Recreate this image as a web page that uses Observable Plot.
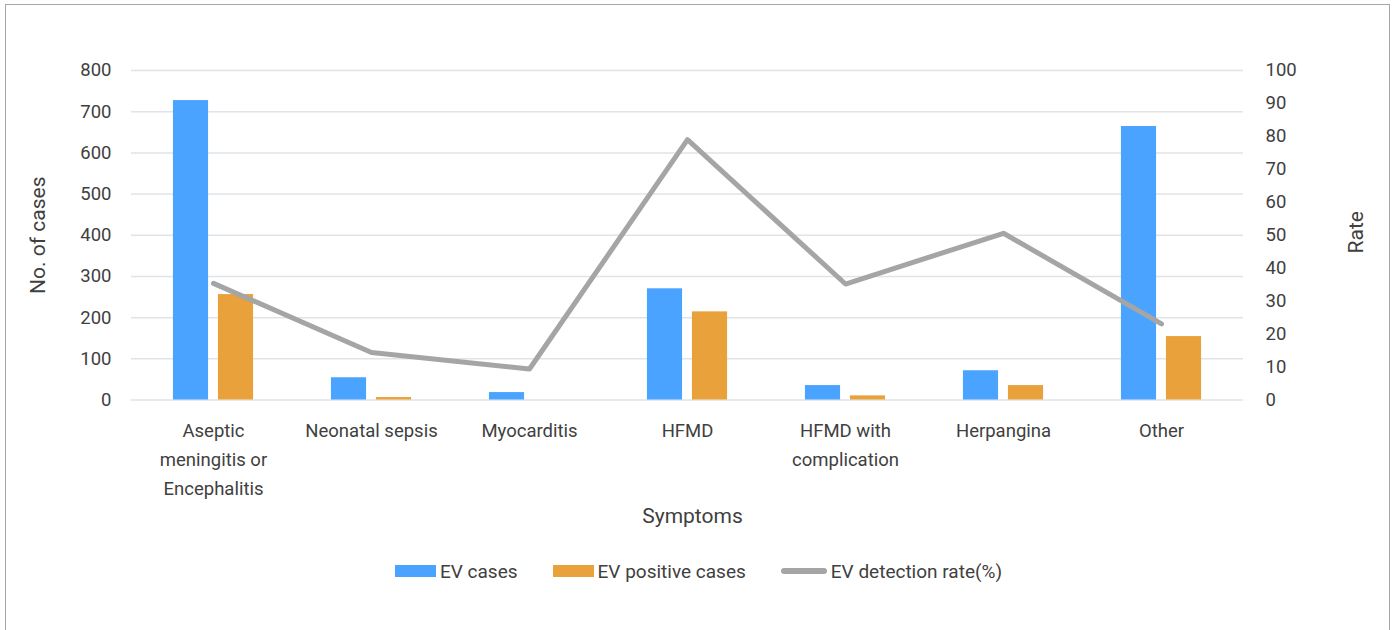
<!DOCTYPE html>
<html>
<head>
<meta charset="utf-8">
<script src="https://cdn.jsdelivr.net/npm/d3@7"></script>
<script src="https://cdn.jsdelivr.net/npm/@observablehq/plot@0.6"></script>
<style>
  html, body { margin: 0; padding: 0; background: #fff; overflow: hidden; }
  body { width: 1397px; height: 630px; position: relative; font-family: Roboto, "Liberation Sans", sans-serif; }
  #frame { position: absolute; left: 5px; top: 4px; width: 1383px; height: 700px; border: 1px solid #a6a6a6; pointer-events: none; }
  #chart svg { display: block; }
  #legend { height: 52px; display: flex; justify-content: center; align-items: center; gap: 35px; font-size: 19px; color: #404040; }
  .item { display: flex; align-items: center; gap: 4px; }
  .sw { width: 41px; height: 12px; }
  .ln { width: 46px; height: 6px; border-radius: 3px; background: #a5a5a5; }
</style>
</head>
<body>
<div id="chart"></div>
<div id="legend"></div>
<div id="frame"></div>
<script>
const categories = ["Aseptic meningitis or Encephalitis", "Neonatal sepsis", "Myocarditis", "HFMD", "HFMD with complication", "Herpangina", "Other"];
const tickLabels = ["Aseptic\nmeningitis or\nEncephalitis", "Neonatal sepsis", "Myocarditis", "HFMD", "HFMD with\ncomplication", "Herpangina", "Other"];
const evCases = [727, 54, 18, 270, 35, 71, 664];
const evPositive = [256, 6, 0, 214, 10, 35, 154];
const detectionRate = [35.4, 14.4, 9.4, 79.0, 35.2, 50.6, 23.1];
const countTicks = [0, 100, 200, 300, 400, 500, 600, 700, 800];
const rateTicks = [0, 10, 20, 30, 40, 50, 60, 70, 80, 90, 100];
const seriesNames = ["EV cases", "EV positive cases", "EV detection rate(%)"];
const colors = ["#4aa3ff", "#e9a23b", "#a5a5a5"];

const data = categories.map((c, i) => ({cat: c, ev: evCases[i], pos: evPositive[i], rate: detectionRate[i]}));
const labelOf = new Map(categories.map((c, i) => [c, tickLabels[i]]));

const W = 1397, H = 545, mL = 131, mR = 154;
const bw = (W - mL - mR) / categories.length;
const barW = 36, gap = 9;
const inNear = bw / 2 - gap / 2 - barW;   // outer inset
const inFar = bw / 2 + gap / 2;           // inner inset
const rateK = 800 / 100;

const chart = Plot.plot({
  width: W, height: H,
  marginTop: 70, marginBottom: H - 399.5, marginLeft: mL, marginRight: mR,
  style: {fontFamily: "Roboto, sans-serif", color: "#404040", background: "white"},
  x: {domain: categories, padding: 0},
  y: {domain: [0, 800]},
  marks: [
    Plot.gridY(countTicks, {stroke: "#dfe3ea", strokeOpacity: 1, strokeWidth: 1.5}),
    Plot.barY(data, {x: "cat", y: "ev", fill: colors[0], insetLeft: inNear, insetRight: inFar}),
    Plot.barY(data, {x: "cat", y: "pos", fill: colors[1], insetLeft: inFar, insetRight: inNear}),
    Plot.line(data, {x: "cat", y: d => d.rate * rateK, stroke: colors[2], strokeWidth: 5, strokeLinejoin: "round", strokeLinecap: "round"}),
    Plot.axisY({ticks: countTicks, tickSize: 0, tickPadding: 20, fontSize: 18.5, label: null, fill: "#404040"}),
    Plot.axisY({anchor: "right", ticks: rateTicks.map(r => r * rateK), tickFormat: d => String(Math.round(d / rateK)), tickSize: 0, tickPadding: 22, fontSize: 18.5, label: null, fill: "#404040"}),
    Plot.axisX({tickSize: 0, tickPadding: 16, fontSize: 18.5, lineHeight: 1.57, tickFormat: d => labelOf.get(d), label: null, fill: "#404040"}),
    Plot.text(["No. of cases"], {frameAnchor: "left", textAnchor: "middle", dx: -93, rotate: -90, fontSize: 21, fill: "#404040"}),
    Plot.text(["Rate"], {frameAnchor: "right", textAnchor: "middle", dx: 113, dy: -3, rotate: -90, fontSize: 21, fill: "#404040"}),
    Plot.text(["Symptoms"], {frameAnchor: "bottom", dy: 122.5, dx: 5, fontSize: 21, fill: "#404040"})
  ]
});
document.getElementById("chart").appendChild(chart);

const legend = document.getElementById("legend");
seriesNames.forEach((name, i) => {
  const item = document.createElement("div");
  item.className = "item";
  const sw = document.createElement("div");
  sw.className = i < 2 ? "sw" : "ln";
  if (i < 2) sw.style.background = colors[i];
  const t = document.createElement("span");
  t.textContent = name;
  item.appendChild(sw); item.appendChild(t);
  legend.appendChild(item);
});
</script>
</body>
</html>
